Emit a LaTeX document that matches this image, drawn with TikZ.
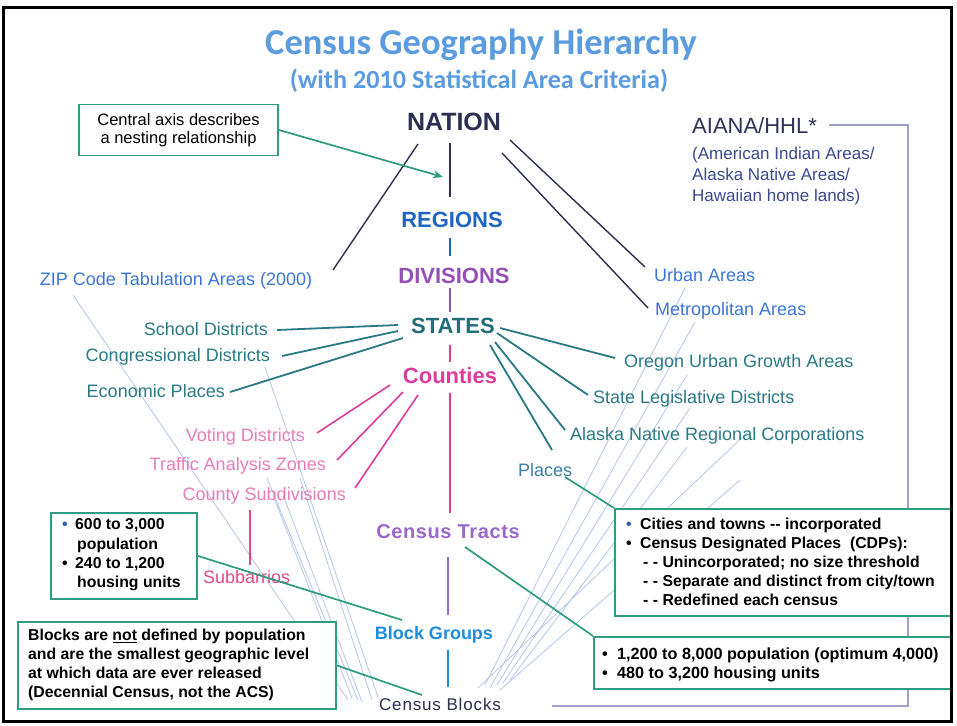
\documentclass[tikz,border=0pt]{standalone}
\usepackage{fontspec}
\setmainfont{Liberation Sans}
\newfontfamily\titlefont{Carlito}
\usetikzlibrary{calc,arrows.meta}
\newcommand\myfs[2]{\fontsize{#1}{#2}\selectfont}
\definecolor{ctitle}{HTML}{5B9BE0}
\definecolor{cnavy}{HTML}{2C3050}
\definecolor{cregions}{HTML}{1F66C2}
\definecolor{cdiv}{HTML}{9550B8}
\definecolor{cstates}{HTML}{226E78}
\definecolor{cteal}{HTML}{2A7A86}
\definecolor{cmag}{HTML}{DD3C9C}
\definecolor{cpink}{HTML}{E87CB8}
\definecolor{csub}{HTML}{E04A88}
\definecolor{ctracts}{HTML}{9A68CC}
\definecolor{cbg}{HTML}{1C8DE0}
\definecolor{cblue}{HTML}{3A76D6}
\definecolor{cplaces}{HTML}{3B80A0}
\definecolor{cgreen}{HTML}{2E9C80}
\definecolor{cfan}{HTML}{B4C6EC}
\definecolor{cbracket}{HTML}{A0A0CC}
\definecolor{caiana}{HTML}{2E3258}
\definecolor{caianasub}{HTML}{3A4A90}
\definecolor{cbullet}{HTML}{2F5FB0}
\begin{document}
\begin{tikzpicture}[x=1pt,y=-1pt,
  lbl/.style={inner sep=0pt, text depth=0pt},
  mainlbl/.style={lbl, font=\bfseries\myfs{22}{26}},
  sidelbl/.style={lbl, font=\myfs{18}{22}},
  axisline/.style={line width=1.4pt},
  tealline/.style={line width=1.8pt, draw=cteal},
  pinkline/.style={line width=1.6pt, draw=cmag},
  blackline/.style={line width=1.4pt, draw=cnavy},
  fanline/.style={draw=cfan, line width=0.8pt},
  gbox/.style={draw=cgreen, line width=1.8pt, fill=white, rectangle, inner sep=0pt},
  gline/.style={draw=cgreen, line width=1.7pt},
  boxtext/.style={inner sep=0pt, align=left, font=\bfseries\myfs{15.8}{19.2}, text=black}
]
\useasboundingbox (0,0) rectangle (957,725);
\fill[white] (0,0) rectangle (957,725);

% light fan lines
\foreach \xa/\ya/\xb/\yb in {73/295/348/700, 265/367/378/697, 267/478/358/700, 300/478/372/700, 273/495/352/698, 283/495/362/702,
  685/288/485/685, 695/322/490/688, 687/375/497/685, 690/408/503/683, 687/447/510/680, 750/430/478/688, 740/480/500/690}
  \draw[fanline] (\xa,\ya) -- (\xb,\yb);

% title
\node[lbl, font=\titlefont\bfseries\myfs{36.5}{42}, text=ctitle] (title) at (481,42) {Census Geography Hierarchy};
\node[lbl, font=\titlefont\bfseries\myfs{26.2}{30}, text=ctitle] (subtitle) at (479,79) {(with 2010 Statistical Area Criteria)};

% central axis
\node[lbl, font=\bfseries\myfs{25}{30}, text=cnavy] (nation) at (454,122) {NATION};
\node[mainlbl, text=cregions] (regions) at (452,220) {REGIONS};
\node[mainlbl, text=cdiv] (divisions) at (454,276) {DIVISIONS};
\node[mainlbl, text=cstates] (states) at (453,326) {STATES};
\node[mainlbl, text=cmag] (counties) at (450,376) {Counties};
\node[lbl, font=\bfseries\myfs{20}{24}\addfontfeature{LetterSpace=3}, text=ctracts] (tracts) at (448,532) {Census Tracts};
\node[lbl, font=\bfseries\myfs{18}{22}, text=cbg] (bgroups) at (434,633) {Block Groups};
\node[lbl, font=\myfs{17}{20}\addfontfeature{LetterSpace=5}, text=cnavy] (blocks) at (440,704) {Census Blocks};

\draw[axisline, cnavy] ($(nation)+(-4,21)$) -- ($(regions)+(-2,-23)$);
\draw[axisline, cregions] ($(regions)+(-2,18)$) -- ($(divisions)+(-4,-20)$);
\draw[axisline, cdiv] ($(divisions)+(-4,12)$) -- ($(states)+(-3,-14)$);
\draw[axisline, cmag] ($(states)+(-3,19)$) -- ($(counties)+(0,-14)$);
\draw[axisline, cmag] ($(counties)+(0,17)$) -- ($(tracts)+(2,-19)$);
\draw[axisline, ctracts] ($(tracts)+(0,25)$) -- ($(bgroups)+(14,-18)$);
\draw[axisline, cbg] ($(bgroups)+(14,17)$) -- ($(blocks)+(8,-17)$);

% AIANA
\node[lbl, anchor=west, font=\myfs{22}{26}, text=caiana] (aiana) at (692,126) {AIANA/HHL*};
\node[inner sep=0pt, anchor=north west, align=left, font=\myfs{17}{21}, text=caianasub] (aianasub) at (692,147) {(American Indian Areas/\\Alaska Native Areas/\\Hawaiian home lands)};
\draw[cbracket, line width=1.4pt] ($(aiana.east)+(12,-1)$) -| ($(blocks)+(468,2)$) -- ($(blocks)+(112,2)$);

% side labels
\node[sidelbl, text=cblue] (zip) at (176,279) {ZIP Code Tabulation Areas (2000)};
\node[sidelbl, anchor=west, text=cblue] (urban) at (654,275) {Urban Areas};
\node[sidelbl, anchor=west, text=cblue] (metro) at (655,309) {Metropolitan Areas};
\node[sidelbl, anchor=east, text=cteal] (school) at (268,329) {School Districts};
\node[sidelbl, anchor=east, text=cteal] (congress) at (270,355) {Congressional Districts};
\node[sidelbl, anchor=east, text=cteal] (econ) at (225,391) {Economic Places};
\node[sidelbl, anchor=west, text=cteal] (oregon) at (624,361) {Oregon Urban Growth Areas};
\node[sidelbl, anchor=west, text=cteal] (stateleg) at (593,397) {State Legislative Districts};
\node[sidelbl, anchor=west, text=cteal] (alaska) at (570,434) {Alaska Native Regional Corporations};
\node[sidelbl, anchor=west, text=cplaces] (places) at (518,470) {Places};
\node[sidelbl, anchor=east, text=cpink] (voting) at (305,435) {Voting Districts};
\node[sidelbl, anchor=east, text=cpink] (traffic) at (326,464) {Traffic Analysis Zones};
\node[sidelbl, anchor=east, text=cpink] (countysub) at (346,494) {County Subdivisions};
\node[sidelbl, anchor=west, text=csub] (subbarrios) at (203,577) {Subbarrios};

% black lines from nation
\draw[blackline] ($(nation)+(-36,22)$) -- ($(zip)+(157,-9)$);
\draw[blackline] ($(nation)+(56,18)$) -- ($(urban.west)+(-9,-8)$);
\draw[blackline] ($(nation)+(48,31)$) -- ($(metro.west)+(-7,-1)$);

% teal lines from states
\draw[tealline] ($(states)+(-55,-1)$) -- ($(school.east)+(9,1)$);
\draw[tealline] ($(states)+(-55,5)$) -- ($(congress.east)+(12,1)$);
\draw[tealline] ($(states)+(-50,12)$) -- ($(econ.east)+(5,1)$);
\draw[tealline] ($(states)+(47,2)$) -- ($(oregon.west)+(-9,-3)$);
\draw[tealline] ($(states)+(44,7)$) -- ($(stateleg.west)+(-5,-2)$);
\draw[tealline] ($(states)+(42,16)$) -- ($(alaska.west)+(-5,-4)$);
\draw[tealline] ($(states)+(37,19)$) -- ($(places.west)+(34,-20)$);

% pink lines from counties
\draw[pinkline] ($(counties)+(-60,9)$) -- ($(voting.east)+(12,-2)$);
\draw[pinkline] ($(counties)+(-47,16)$) -- ($(traffic.east)+(11,-4)$);
\draw[pinkline] ($(counties)+(-32,19)$) -- ($(countysub.east)+(9,-6)$);
\draw[line width=1.2pt, draw=csub] ($(countysub.east)+(-96,16)$) -- ($(subbarrios.west)+(47,-12)$);

% central axis note
\node[gbox, align=center, font=\myfs{16.5}{18}, minimum width=199pt, minimum height=51pt] (cbox) at (178.5,130) {Central axis describes\\a nesting relationship};
\draw[gline, -{Stealth[length=10pt,width=8pt]}] (cbox.east) -- ($(nation)+(-11,55)$);

% info boxes
\node[gbox, anchor=north west, minimum width=146pt, minimum height=86pt] (box1) at (50,512) {};
\node[boxtext, anchor=west, font=\bfseries\myfs{15.8}{19.3}] (box1txt) at (62,555) {\makebox[13pt][l]{\textcolor{cbullet}{•}}600 to 3,000\\\hspace*{15pt}population\\\makebox[13pt][l]{•}240 to 1,200\\\hspace*{15pt}housing units};

\node[gbox, anchor=north west, minimum width=318pt, minimum height=87pt] (box2) at (17,621) {};
\node[boxtext, anchor=west, font=\bfseries\myfs{15.8}{19}] (box2txt) at (28,665) {Blocks are \underline{not} defined by population\\and are the smallest geographic level\\at which data are ever released\\(Decennial Census, not the ACS)};

\node[gbox, anchor=north west, minimum width=337pt, minimum height=107pt] (pbox) at (614,508) {};
\node[boxtext, anchor=west, font=\bfseries\myfs{15.8}{19}] (pboxtxt) at (626,562) {\makebox[14pt][l]{\textcolor{cbullet}{•}}Cities and towns -{}- incorporated\\\makebox[14pt][l]{•}Census Designated Places\ \ (CDPs):\\\hspace*{17pt}- - Unincorporated; no size threshold\\\hspace*{17pt}- - Separate and distinct from city/town\\\hspace*{17pt}- - Redefined each census};

\node[gbox, anchor=north west, minimum width=358pt, minimum height=52pt] (tbox) at (593,636) {};
\node[boxtext, anchor=west, font=\bfseries\myfs{16.2}{19}] (tboxtxt) at (602,665) {\makebox[15pt][l]{•}1,200 to 8,000 population (optimum 4,000)\\\makebox[15pt][l]{•}480 to 3,200 housing units};

% green connectors
\draw[gline] (box1.east) -- ($(bgroups)+(-32,-13)$);
\draw[gline] (box2.east) -- ($(blocks)+(-18,-9)$);
\draw[gline] ($(places.west)+(47,7)$) -- (pbox.north west);
\draw[gline] ($(tracts)+(17,15)$) -- (tbox.north west);

% outer frame
\draw[line width=3pt, black] (3,8) rectangle (951,721);
\end{tikzpicture}
\end{document}
